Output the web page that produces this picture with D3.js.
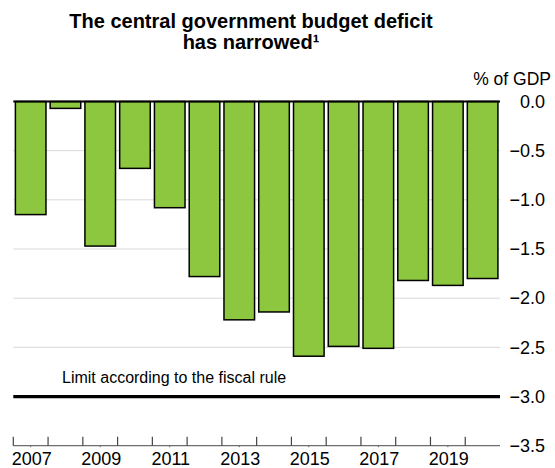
<!DOCTYPE html>
<html>
<head>
<meta charset="utf-8">
<script src="https://cdn.jsdelivr.net/npm/d3@7"></script>
<style>
  html, body { margin: 0; padding: 0; background: #fff; }
  svg { display: block; font-family: "Liberation Sans", Arial, sans-serif; }
</style>
</head>
<body>
<svg id="chart" width="555" height="468"></svg>
<script>
// Central government budget balance, % of GDP
const years = [2007, 2008, 2009, 2010, 2011, 2012, 2013, 2014, 2015, 2016, 2017, 2018, 2019, 2020];
const balance = [-1.15, -0.07, -1.47, -0.68, -1.08, -1.78, -2.22, -2.14, -2.59, -2.49, -2.51, -1.82, -1.87, -1.80];
const yTicks = [0, -0.5, -1.0, -1.5, -2.0, -2.5, -3.0, -3.5];
const xLabelYears = [2007, 2009, 2011, 2013, 2015, 2017, 2019];
const fiscalLimit = -3.0;

const svg = d3.select("#chart");
const plotLeft = 13.3, plotRight = 500, plotTop = 101.5, plotBottom = 445.7;

const x = d3.scaleBand()
  .domain(years)
  .range([plotLeft, plotRight])
  .paddingInner(0.12)
  .paddingOuter(0.06);
const step = x.step();
const slotStart = d => x(d) - step * x.paddingInner() / 2;

const y = d3.scaleLinear().domain([0, -3.5]).range([plotTop, plotBottom]);

// Title
const title = svg.append("text")
  .attr("text-anchor", "middle")
  .attr("font-weight", "bold")
  .attr("font-size", 20)
  .attr("fill", "#000");
title.append("tspan").attr("x", 251).attr("y", 27.5).text("The central government budget deficit");
title.append("tspan").attr("x", 251).attr("y", 49).text("has narrowed\u00B9");

// Unit label
svg.append("text")
  .attr("x", 551).attr("y", 85)
  .attr("text-anchor", "end")
  .attr("font-size", 17.5)
  .text("% of GDP");

// Gridlines
svg.append("g")
  .selectAll("line")
  .data(yTicks.filter(v => v < 0 && v > -3))
  .join("line")
  .attr("x1", plotLeft).attr("x2", plotRight)
  .attr("y1", d => y(d)).attr("y2", d => y(d))
  .attr("stroke", "#d9d9d9")
  .attr("stroke-width", 1);

// Right-hand value axis labels
svg.append("g")
  .selectAll("text")
  .data(yTicks)
  .join("text")
  .attr("x", 545)
  .attr("y", d => y(d))
  .attr("dy", "0.35em")
  .attr("text-anchor", "end")
  .attr("font-size", 18)
  .text(d => d3.format(".1f")(d));

// Bars
svg.append("g")
  .selectAll("rect")
  .data(years.map((yr, i) => ({ yr, v: balance[i] })))
  .join("rect")
  .attr("x", d => x(d.yr))
  .attr("width", x.bandwidth())
  .attr("y", y(0))
  .attr("height", d => y(d.v) - y(0))
  .attr("fill", "#8dc63f")
  .attr("stroke", "#000")
  .attr("stroke-width", 1.5);

// Zero line
svg.append("line")
  .attr("x1", plotLeft).attr("x2", plotRight)
  .attr("y1", y(0)).attr("y2", y(0))
  .attr("stroke", "#000")
  .attr("stroke-width", 2);

// Fiscal rule limit
svg.append("line")
  .attr("x1", plotLeft).attr("x2", plotRight)
  .attr("y1", y(fiscalLimit)).attr("y2", y(fiscalLimit))
  .attr("stroke", "#000")
  .attr("stroke-width", 3.2);
svg.append("text")
  .attr("x", 62).attr("y", 383)
  .attr("font-size", 16)
  .text("Limit according to the fiscal rule");

// Bottom category axis
const axisG = svg.append("g");
axisG.append("line")
  .attr("x1", plotLeft).attr("x2", plotRight)
  .attr("y1", y(-3.5)).attr("y2", y(-3.5))
  .attr("stroke", "#6e6e6e")
  .attr("stroke-width", 1.2);
axisG.selectAll("line.tick")
  .data(years)
  .join("line")
  .attr("class", "tick")
  .attr("x1", d => slotStart(d)).attr("x2", d => slotStart(d))
  .attr("y1", y(-3.5)).attr("y2", y(-3.5) - 9)
  .attr("stroke", "#444")
  .attr("stroke-width", 1.2);
axisG.selectAll("line.minor")
  .data(xLabelYears)
  .join("line")
  .attr("class", "minor")
  .attr("x1", d => x(d) + x.bandwidth() / 2).attr("x2", d => x(d) + x.bandwidth() / 2)
  .attr("y1", y(-3.5)).attr("y2", y(-3.5) + 1.5)
  .attr("stroke", "#666")
  .attr("stroke-width", 1);
axisG.selectAll("text")
  .data(xLabelYears)
  .join("text")
  .attr("x", d => x(d) + x.bandwidth() / 2 + 1)
  .attr("y", 465)
  .attr("text-anchor", "middle")
  .attr("font-size", 18)
  .text(d => d);
</script>
</body>
</html>
